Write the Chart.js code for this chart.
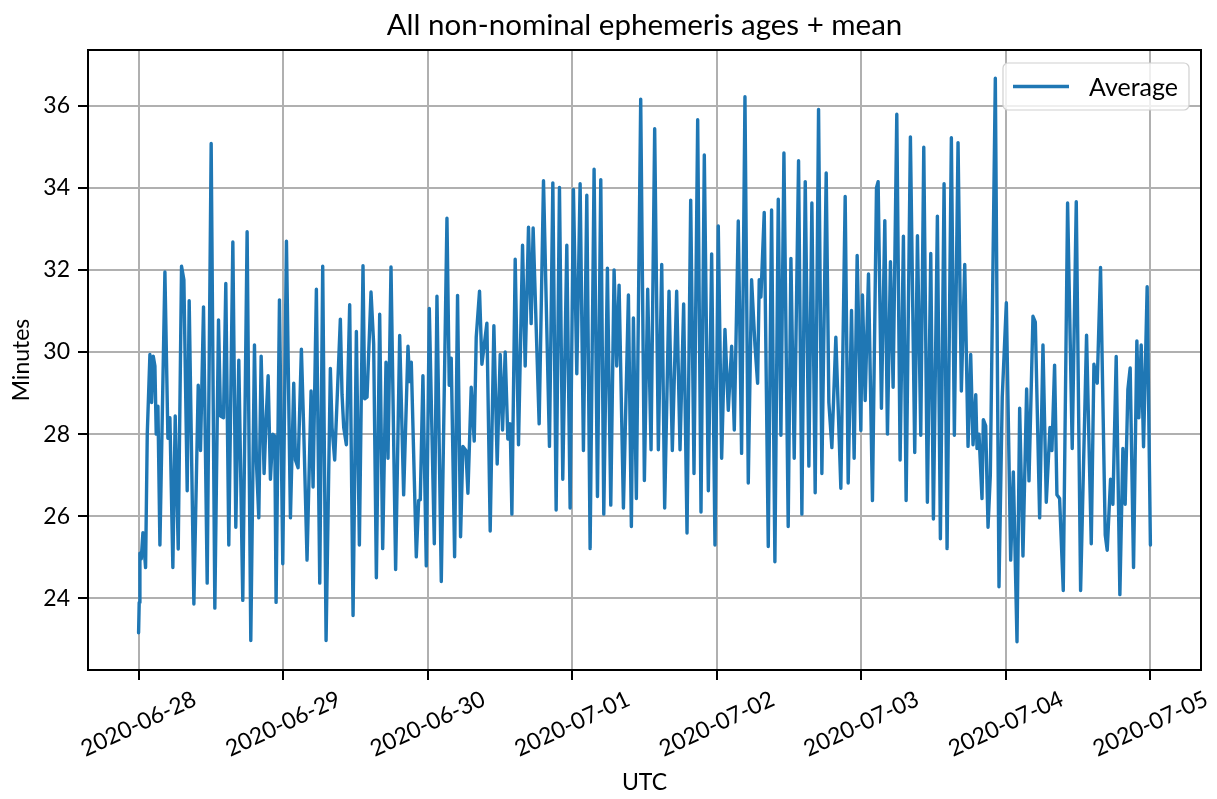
<!DOCTYPE html>
<html>
<head>
<meta charset="utf-8">
<script src="https://cdn.jsdelivr.net/npm/chart.js@4.4.0/dist/chart.umd.min.js"></script>
<style>
html,body{margin:0;padding:0;background:#fff;}
#wrap{width:1217px;height:799px;}
</style>
</head>
<body>
<div id="wrap"><canvas id="c" width="1217" height="799"></canvas></div>
<script>
// ---- text ----
const titleText = 'All non-nominal ephemeris ages + mean';
const xTitle = 'UTC';
const yTitle = 'Minutes';
const seriesLabel = 'Average';

// ---- ticks ----
const dayTicks = [0, 24, 48, 72, 96, 120, 144, 168]; // hours since 2020-06-28 00:00 UTC
const dayLabels = ['2020-06-28','2020-06-29','2020-06-30','2020-07-01','2020-07-02','2020-07-03','2020-07-04','2020-07-05'];
const yTicks = [24, 26, 28, 30, 32, 34, 36];

// ---- data: hours since 2020-06-28 00:00 UTC ----
const hours = [
0,0.1,0.22,0.44,0.72,1.16,1.44,1.88,2.16,2.43,2.71,2.93,3.21,3.54,4.37,4.87,5.2,5.69,6.08,6.58,7.13,7.52,8.07,8.4,9.18,9.9,10.28,10.78,11.39,12.05,12.66,13.27,13.6,14.1,14.48,14.98,15.65,16.14,
16.64,17.3,18.02,18.63,19.24,19.57,19.96,20.35,20.84,21.17,21.51,21.89,22.28,22.61,22.83,23.39,23.94,24.55,25.21,25.76,26.04,26.48,27.03,27.42,27.97,28.64,28.97,29.52,30.08,30.57,31.13,31.84,32.12,32.56,33.5,
33.78,34.06,34.5,35.05,35.61,36.16,36.66,37.26,37.54,37.93,38.59,39.03,39.48,40.03,40.53,41.08,41.41,41.91,42.68,43.35,44.01,44.73,45.0,45.28,46.11,46.5,46.77,47.21,47.77,48.27,49.1,49.54,50.26,51.2,51.58,
51.91,52.47,52.96,53.46,53.85,54.35,54.68,55.23,55.73,56.06,56.61,57.0,57.83,58.38,58.99,59.54,60.04,60.43,60.87,61.31,61.7,61.98,62.53,63.08,63.75,64.19,64.74,65.18,65.51,66.51,67.23,68.22,68.78,
69.33,69.88,70.43,71.1,71.65,72.2,72.76,73.31,73.86,74.42,74.97,75.63,76.19,76.74,77.24,77.84,78.4,78.95,79.39,79.78,80.5,81.33,81.82,82.16,82.65,83.37,83.98,84.53,85.09,85.69,
86.3,86.86,87.35,88.07,88.62,89.34,89.9,90.5,91.06,91.67,92.22,92.83,93.38,93.93,94.6,95.15,95.7,96.25,96.81,97.36,97.91,98.47,98.91,99.57,100.12,100.68,101.23,101.78,102.34,102.78,103.05,103.33,103.88,
104.55,105.1,105.65,106.21,106.65,107.15,107.86,108.31,108.86,109.58,110.13,110.69,111.29,111.79,112.34,112.9,113.45,114.17,114.61,115.11,115.77,116.6,117.32,117.82,118.37,118.81,119.31,119.92,120.19,120.64,121.19,
121.85,122.52,122.79,123.34,123.9,124.34,124.84,125.28,125.89,126.44,126.99,127.44,128.15,128.87,129.32,129.87,130.37,130.97,131.53,131.97,132.63,133.13,133.74,134.24,134.95,135.45,136.06,136.61,137.17,137.72,138.16,
138.55,139.0,139.21,139.54,140.04,140.26,140.65,141.04,141.42,142.25,142.86,143.4,144.08,144.8,145.24,145.85,146.29,146.84,147.45,147.84,148.5,148.89,149.61,150.16,150.71,151.32,151.65,152.09,152.48,152.92,153.53,154.25,155.02,155.69,
156.41,157.4,158.18,158.62,159.17,159.72,160.5,160.83,161.38,161.77,162.32,162.93,163.43,163.81,164.26,164.64,165.2,165.75,166.08,166.47,166.86,167.46,168
];
// ---- data: mean ephemeris age, minutes ----
const minutes = [
23.16,23.9,25.1,24.96,25.6,24.75,28.0,29.94,28.77,29.9,29.66,28.0,28.68,25.3,31.95,27.9,28.4,24.75,28.44,25.2,32.09,31.76,26.62,31.25,23.86,29.19,27.6,31.1,24.37,35.08,23.76,30.78,28.44,28.4,31.67,25.3,32.68,25.73,
29.8,23.95,32.93,22.97,30.17,27.3,25.96,29.9,27.04,28.35,29.42,26.9,28.0,27.95,23.9,31.27,24.84,32.7,25.96,29.24,27.37,27.18,30.07,28.1,24.93,29.05,26.71,31.53,24.37,32.09,22.97,29.6,28.16,27.37,30.8,
28.96,28.16,27.74,31.15,23.58,30.5,25.3,32.1,28.86,28.9,31.46,30.2,24.5,30.92,25.21,29.75,27.41,32.07,24.7,30.4,26.52,30.14,29.28,29.75,25.01,26.38,26.4,29.42,24.79,31.06,25.33,31.36,24.41,33.26,29.19,
29.85,25.01,31.38,25.5,27.7,27.6,26.56,29.14,27.83,30.36,31.48,29.7,30.7,25.64,30.64,27.27,29.94,28.1,30.0,27.88,28.25,26.05,32.26,27.74,32.6,29.66,33.04,30.69,33.02,28.25,34.17,27.7,34.12,
26.15,34.01,26.9,32.6,26.2,33.96,29.47,34.1,27.6,33.82,25.21,34.45,26.48,34.2,26.05,32.04,26.27,32.0,29.66,31.63,26.2,31.39,25.75,30.83,26.43,36.16,26.87,31.53,27.62,35.44,
27.62,32.13,26.2,31.48,27.6,31.48,27.62,31.17,25.59,33.7,27.04,35.66,26.1,34.8,26.62,32.39,25.3,33.07,27.41,30.55,28.58,30.14,28.1,33.19,27.53,36.22,26.81,31.76,30.17,29.24,31.76,31.34,33.4,
25.26,33.46,24.89,33.72,27.97,34.85,25.75,32.28,27.41,34.66,26.05,34.15,27.22,33.63,26.57,35.91,27.04,34.36,28.77,27.67,30.36,26.68,33.79,26.81,31.01,27.41,32.35,28.09,31.39,28.82,31.9,
26.38,34.0,34.15,28.63,33.2,28.0,32.2,29.14,35.79,27.37,32.82,26.38,35.24,27.55,32.83,27.97,34.99,26.34,32.4,25.93,33.31,25.45,34.1,25.21,35.22,27.97,35.1,29.05,32.13,27.7,29.94,
27.74,28.96,27.65,28.0,26.43,28.35,28.2,25.73,27.0,36.67,24.28,28.9,31.2,24.93,27.08,22.94,28.63,25.03,29.1,26.86,30.87,30.73,25.96,30.17,26.34,28.16,27.6,29.68,26.52,26.43,24.19,33.63,27.65,33.66,
24.19,30.41,25.33,29.7,29.24,32.06,25.54,25.17,26.9,26.29,29.89,24.09,27.65,26.29,29.09,29.61,24.75,30.27,28.4,30.17,27.69,31.59,25.3
];

// ---- styling ----
const FONT = 'Lato, "Noto Sans", "DejaVu Sans", sans-serif';
const LINE_COLOR = '#1f77b4';
const GRID_COLOR = '#b0b0b0';

function padRange(lo, hi) { const r = hi - lo; return [lo - 0.05 * r, hi + 0.05 * r]; }
const [yMin, yMax] = padRange(Math.min(...minutes), Math.max(...minutes));
const [xMin, xMax] = padRange(hours[0], hours[hours.length - 1]);

const decor = {
  id: 'decor',
  afterDraw(chart) {
    const { ctx, chartArea: a, scales } = chart;
    const xs = scales.x;
    ctx.save();
    // spines
    ctx.strokeStyle = '#000';
    ctx.lineWidth = 2;
    ctx.strokeRect(a.left, a.top, a.right - a.left, a.bottom - a.top);
    ctx.fillStyle = '#000';
    ctx.textAlign = 'center';
    ctx.textBaseline = 'middle';
    // title
    ctx.font = '29.5px ' + FONT;
    ctx.fillText(titleText, (a.left + a.right) / 2, 25);
    // x tick labels (rotated, centred on tick)
    ctx.font = '23px ' + FONT;
    dayTicks.forEach((t, i) => {
      const px = xs.getPixelForValue(t);
      ctx.save();
      ctx.translate(px, a.bottom + 54);
      ctx.rotate(-25 * Math.PI / 180);
      ctx.fillText(dayLabels[i], 0, 0);
      ctx.restore();
    });
    // axis titles
    ctx.fillText(xTitle, (a.left + a.right) / 2, 783);
    ctx.save();
    ctx.translate(22, (a.top + a.bottom) / 2);
    ctx.rotate(-Math.PI / 2);
    ctx.fillText(yTitle, 0, 0);
    ctx.restore();
    // legend
    const bw = 186, bh = 47;
    const bx = a.right - 12 - bw, by = a.top + 13;
    ctx.beginPath();
    ctx.roundRect(bx, by, bw, bh, 5);
    ctx.fillStyle = 'rgba(255,255,255,0.8)';
    ctx.fill();
    ctx.strokeStyle = '#d0d0d0';
    ctx.lineWidth = 1.2;
    ctx.stroke();
    const ly = by + bh / 2;
    ctx.beginPath();
    ctx.moveTo(bx + 10, ly);
    ctx.lineTo(bx + 66, ly);
    ctx.strokeStyle = chart.data.datasets[0].borderColor;
    ctx.lineWidth = 3.4;
    ctx.stroke();
    ctx.fillStyle = '#000';
    ctx.textAlign = 'left';
    ctx.font = '25px ' + FONT;
    ctx.fillText(chart.data.datasets[0].label, bx + 86, ly + 1);
    ctx.restore();
  }
};

new Chart(document.getElementById('c'), {
  type: 'line',
  data: {
    datasets: [{
      label: seriesLabel,
      data: hours.map((h, i) => ({ x: h, y: minutes[i] })),
      borderColor: LINE_COLOR,
      backgroundColor: LINE_COLOR,
      borderWidth: 3.4,
      pointRadius: 0,
      tension: 0,
      borderJoinStyle: 'round',
      borderCapStyle: 'round',
      fill: false
    }]
  },
  options: {
    responsive: false,
    animation: false,
    devicePixelRatio: 1,
    layout: { padding: { left: 0, top: 50, right: 16, bottom: 0 } },
    plugins: { legend: { display: false }, title: { display: false }, tooltip: { enabled: false } },
    scales: {
      x: {
        type: 'linear',
        min: xMin,
        max: xMax,
        afterBuildTicks: (s) => { s.ticks = dayTicks.map(v => ({ value: v })); },
        afterFit: (s) => { s.height = 129; },
        ticks: { display: false },
        grid: { color: GRID_COLOR, lineWidth: 2, drawTicks: true, tickLength: 10, tickColor: '#000', tickWidth: 2 },
        border: { display: false }
      },
      y: {
        type: 'linear',
        min: yMin,
        max: yMax,
        afterBuildTicks: (s) => { s.ticks = yTicks.map(v => ({ value: v })); },
        afterFit: (s) => { s.width = 88; },
        ticks: { color: '#000', font: { family: FONT, size: 23 }, padding: 8 },
        grid: { color: GRID_COLOR, lineWidth: 2, drawTicks: true, tickLength: 10, tickColor: '#000', tickWidth: 2 },
        border: { display: false }
      }
    }
  },
  plugins: [decor]
});
</script>
</body>
</html>
